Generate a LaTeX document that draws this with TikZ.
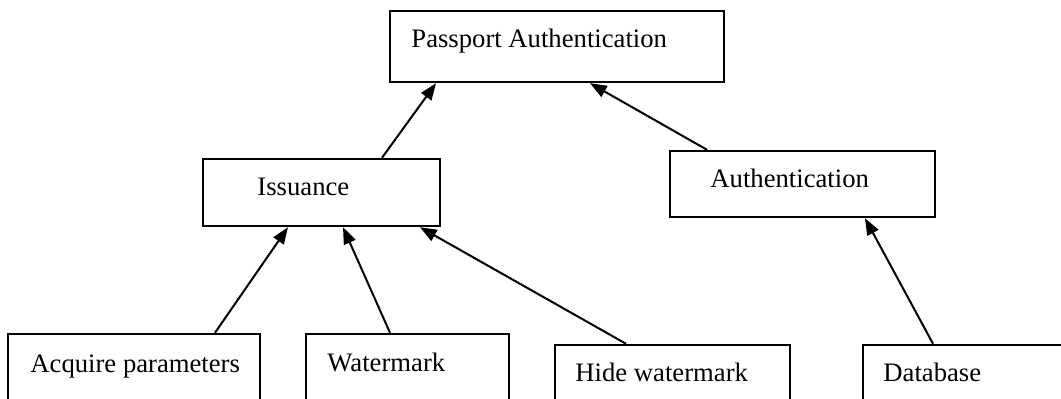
\documentclass[tikz,border=0pt]{standalone}
\usepackage{fontspec}
\setmainfont{Liberation Serif}
\usetikzlibrary{arrows.meta,calc}

\begin{document}
\begin{tikzpicture}[x=0.45pt,y=-0.45pt,
    box/.style={draw,line width=1.1pt,inner sep=0pt},
    txt/.style={anchor=base west,inner sep=0pt,font=\fontsize{12}{14}\selectfont},
    arr/.style={line width=0.9pt,-{Triangle[length=7.5pt,width=5.6pt]}}]
  \useasboundingbox (0,0) rectangle (1061,398);
  \clip (0,0) rectangle (1061,398);
  % boxes
  \node[box,minimum width=150.3pt,minimum height=31.95pt] (pa) at (557,46.5) {};
  \node[box,minimum width=106.65pt,minimum height=30.15pt] (iss) at (321.5,192.5) {};
  \node[box,minimum width=119.25pt,minimum height=29.7pt] (auth) at (802.5,184) {};
  \node[box,minimum width=113.4pt,minimum height=38.7pt] (acq) at (134,377) {};
  \node[box,minimum width=91.35pt,minimum height=38.7pt] (wm) at (407.5,377) {};
  \node[box,minimum width=105.75pt,minimum height=38.25pt] (hide) at (672.5,387.5) {};
  \node[box,minimum width=111.15pt,minimum height=38.25pt] (db) at (986.5,387.5) {};
  % labels
  \node[txt] (pa-t) at (411,47) {Passport Authentication};
  \node[txt] (iss-t) at (257,195) {Issuance};
  \node[txt] (auth-t) at (710,187) {Authentication};
  \node[txt] (acq-t) at (30,372) {Acquire parameters};
  \node[txt] (wm-t) at (327,371) {Watermark};
  \node[txt] (hide-t) at (575,381) {Hide watermark};
  \node[txt] (db-t) at (883,381) {Database};
  % arrows
  \draw[arr] ($(iss.north)+(60.5,0)$) -- ($(pa.south)+(-121,0)$);
  \draw[arr] ($(auth.north)+(-95.5,0)$) -- ($(pa.south)+(33,0)$);
  \draw[arr] ($(acq.north)+(81,0)$) -- ($(iss.south)+(-33.5,0)$);
  \draw[arr] ($(wm.north)+(-17.5,0)$) -- ($(iss.south)+(21.5,0)$);
  \draw[arr] ($(hide.north)+(-46.5,0)$) -- ($(iss.south)+(98.5,0)$);
  \draw[arr] ($(db.north)+(-53.5,0)$) -- ($(auth.south)+(62.5,0)$);
\end{tikzpicture}
\end{document}
